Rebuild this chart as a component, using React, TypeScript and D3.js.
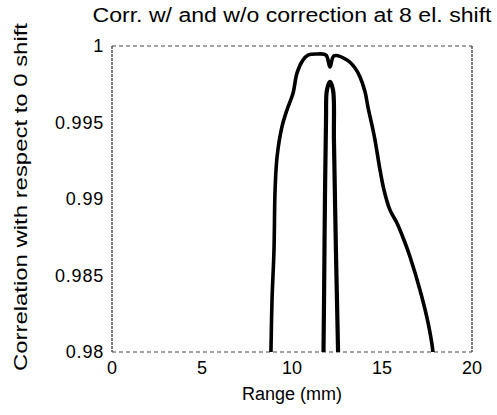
import React from "react";
import * as d3 from "d3";

const xTicks = [0, 5, 10, 15, 20];
const yTicks = [0.98, 0.985, 0.99, 0.995, 1];
const yTickLabels = ["0.98", "0.985", "0.99", "0.995", "1"];

// wide curve (with correction)
const wideX = [8.8, 8.83, 8.89, 9.0, 9.06, 9.17, 9.44, 9.72, 10.06, 10.28, 10.61, 10.89, 11.44, 11.89, 12.11, 12.33, 13.06, 13.5, 13.78, 14.06, 14.22, 14.44, 14.61, 14.89, 15.11, 15.44, 15.83, 16.22, 16.56, 17.11, 17.56, 17.83, 17.88];
const wideY = [0.9785, 0.98, 0.9834, 0.98667, 0.99059, 0.99275, 0.99471, 0.99582, 0.99693, 0.99824, 0.99908, 0.99941, 0.99948, 0.99941, 0.99863, 0.99935, 0.99908, 0.99856, 0.99797, 0.99699, 0.99601, 0.99484, 0.99386, 0.9919, 0.99059, 0.98929, 0.98843, 0.98732, 0.98621, 0.98405, 0.9819, 0.98, 0.9785];

// narrow curve (without correction)
const narrowX = [11.71, 11.75, 11.78, 11.83, 11.89, 11.94, 12.11, 12.28, 12.33, 12.44, 12.56, 12.58];
const narrowY = [0.9785, 0.98, 0.9834, 0.98993, 0.99516, 0.99712, 0.99765, 0.99712, 0.99386, 0.98667, 0.98, 0.9785];

const W = 497;
const H = 415;
const M = { left: 112, right: 472, top: 46, bottom: 352 };

export default function App() {
  const x = d3.scaleLinear().domain([0, 20]).range([M.left, M.right]);
  const y = d3.scaleLinear().domain([0.98, 1]).range([M.bottom, M.top]);
  const mk = (xs: number[], ys: number[]) =>
    d3
      .line<number>()
      .x((d) => x(d))
      .y((_, i) => y(ys[i]))
      .curve(d3.curveCatmullRom.alpha(0.5))(xs) || "";
  const font = "'Liberation Sans', Arial, Helvetica, sans-serif";
  return (
    <svg
      width={W}
      height={H}
      style={{ position: "absolute", left: 0, top: 0, background: "#fff" }}
      fontFamily={font}
    >
      <defs>
        <clipPath id="plot">
          <rect x={M.left} y={M.top - 2} width={M.right - M.left} height={M.bottom - M.top + 2} />
        </clipPath>
      </defs>
      {/* frame */}
      <line x1={M.left} x2={M.left} y1={M.top} y2={M.bottom} stroke="#222" strokeWidth={1.2} strokeDasharray="3,1" />
      <line x1={M.right} x2={M.right} y1={M.top} y2={M.bottom} stroke="#222" strokeWidth={1.2} strokeDasharray="3,1" />
      <line x1={M.left} x2={M.right} y1={M.top} y2={M.top} stroke="#444" strokeWidth={1} strokeDasharray="4,3" />
      <line x1={M.left} x2={M.right} y1={M.bottom} y2={M.bottom} stroke="#444" strokeWidth={1} strokeDasharray="4,3" />
      {/* curves */}
      <g clipPath="url(#plot)" fill="none" stroke="#000" strokeLinejoin="round" strokeLinecap="round">
        <path d={mk(wideX, wideY)} strokeWidth={3.6} />
        <path d={mk(narrowX, narrowY)} strokeWidth={4.2} />
      </g>
      {/* y ticks */}
      {yTicks.map((t, i) => (
        <text
          key={t}
          x={104}
          y={y(t)}
          dy="0.35em"
          textAnchor="end"
          fontSize={18}
          letterSpacing={0.8}
          fill="#000"
        >
          {yTickLabels[i]}
        </text>
      ))}
      {/* x ticks */}
      {xTicks.map((t) => (
        <text key={t} x={x(t)} y={368} dy="0.35em" textAnchor="middle" fontSize={18} fill="#000">
          {t}
        </text>
      ))}
      {/* title */}
      <text x={292} y={22} textAnchor="middle" fontSize={20} textLength={399} lengthAdjust="spacingAndGlyphs" fill="#000">
        Corr. w/ and w/o correction at 8 el. shift
      </text>
      {/* x label */}
      <text x={292} y={394} dy="0.35em" textAnchor="middle" fontSize={18} fill="#000">
        Range (mm)
      </text>
      {/* y label */}
      <text
        transform={`translate(20,197) rotate(-90)`}
        dy="0.35em"
        textAnchor="middle"
        fontSize={19}
        textLength={348}
        lengthAdjust="spacingAndGlyphs"
        fill="#000"
      >
        Correlation with respect to 0 shift
      </text>
    </svg>
  );
}
